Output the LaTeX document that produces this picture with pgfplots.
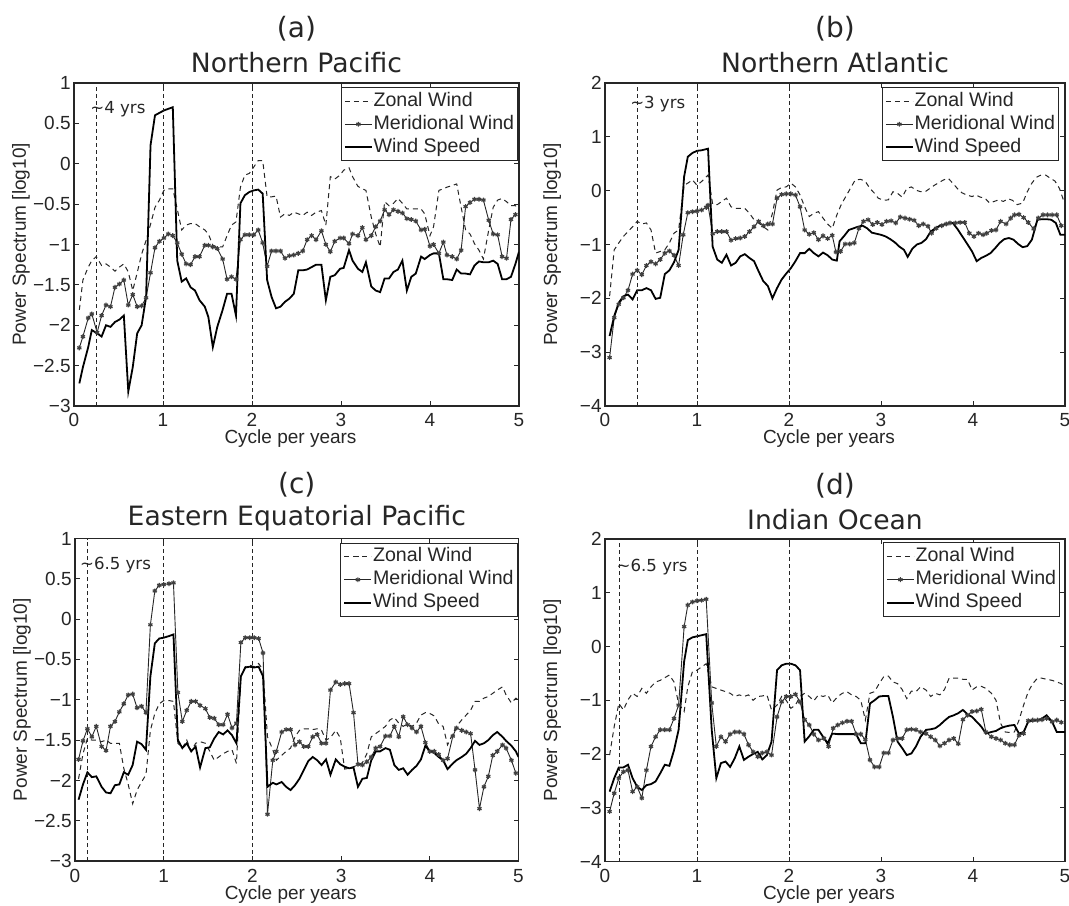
\documentclass[border=0pt]{standalone}
\usepackage{fontspec}
\setmainfont{Liberation Sans}
\newfontfamily\dejavu{DejaVu Sans}
\usepackage{pgfplots}
\pgfplotsset{compat=1.18}
\pgfplotsset{
  myaxis/.style={
    scale only axis, anchor=south west,
    xmin=0, xmax=5, xtick={0,1,2,3,4,5}, xticklabels={0,1,2,3,4,5},
    tick align=inside, tick pos=both, major tick length=2.5pt,
    axis line style={line width=0.6pt, black!85},
    every tick/.style={line width=0.5pt, black!85},
    ticklabel style={font=\fontsize{9.5}{11}\selectfont, text=black!85},
    xticklabel style={anchor=base, yshift=-10.5pt},
    yticklabel style={anchor=east, inner sep=0pt, xshift=-1.5pt},
    legend cell align=left,
    legend image code/.code={\draw[mark repeat=2,mark phase=2,##1] plot coordinates {(0pt,0pt) (6.75pt,0pt) (13.5pt,0pt)};},
    legend style={draw=black!85, line width=0.5pt, fill=white, inner xsep=1.3pt, inner ysep=1.8pt,
      font=\fontsize{9.8}{11}\selectfont, text=black!85, row sep=1.4pt,
      nodes={inner sep=0.4pt, text height=7.2pt, text depth=2.1pt},
      at={(1,1)}, anchor=north east},
  },
  aye/.style={ymin=-3, ymax=1, ytick={-3,-2.5,-2,-1.5,-1,-0.5,0,0.5,1},
    yticklabels={−3,−2.5,−2,−1.5,−1,−0.5,0,0.5,1}},
  bee/.style={ymin=-4, ymax=2, ytick={-4,-3,-2,-1,0,1,2},
    yticklabels={−4,−3,−2,−1,0,1,2}},
  zon/.style={black!85, line width=0.5pt, dash pattern=on 2.5pt off 2pt},
  mer/.style={black!85, line width=0.45pt, mark=asterisk, mark size=1.2pt,
    mark options={solid, line width=0.6pt, draw=black!75}},
  spd/.style={black, line width=0.9pt},
  vline/.style={black!85, line width=0.45pt, dash pattern=on 2pt off 1.5pt, forget plot},
}
\newcommand{\ttl}[3]{%
  \node[anchor=base, font=\dejavu\fontsize{14}{16}\selectfont, text=black!85] at ([yshift=22.5pt]#1.north) {(#1)};
  \node[anchor=base, font=\dejavu\fontsize{13.3}{15}\selectfont, text=black!85] at ([yshift=#3]#1.north) {#2};
  \node[anchor=base, font=\fontsize{9.5}{11}\selectfont, text=black!85] at ([xshift=-3pt,yshift=-19pt]#1.south) {Cycle per years};
  \node[anchor=base, rotate=90, font=\fontsize{9.5}{11}\selectfont, text=black!85] at ([xshift=-24pt]#1.west) {Power Spectrum [log10]};
}
\newcommand{\ann}[1]{\node[anchor=base west, inner sep=0pt, font=\dejavu\fontsize{8.3}{9}\selectfont, text=black!85]}
\begin{document}
\begin{tikzpicture}
\useasboundingbox (0,0) rectangle (534.5pt,452.5pt);
% ---------------- (a)
\begin{axis}[myaxis, aye, name=a, at={(37pt,249.5pt)}, width=222.5pt, height=161.5pt,
  legend style={xshift=-0.5pt, yshift=-2pt}]
\addplot[zon] coordinates {(0.06,-1.81)(0.10,-1.44)(0.16,-1.28)(0.20,-1.20)(0.25,-1.15)(0.31,-1.26)(0.36,-1.24)(0.41,-1.28)(0.46,-1.33)(0.51,-1.28)(0.56,-1.24)(0.61,-1.34)(0.66,-1.57)(0.71,-1.35)(0.76,-1.12)(0.81,-0.95)(0.86,-0.75)(0.91,-0.54)(0.96,-0.45)(1.01,-0.33)(1.06,-0.31)(1.11,-0.31)(1.16,-0.56)(1.21,-0.82)(1.26,-0.76)(1.31,-0.74)(1.36,-0.74)(1.41,-0.78)(1.47,-0.82)(1.51,-0.87)(1.56,-1.01)(1.61,-1.03)(1.67,-1.03)(1.72,-0.89)(1.77,-0.76)(1.82,-0.72)(1.87,-0.29)(1.92,-0.14)(1.97,-0.12)(2.02,-0.04)(2.07,0.04)(2.12,0.04)(2.17,-0.41)(2.22,-0.41)(2.27,-0.40)(2.32,-0.66)(2.37,-0.62)(2.42,-0.64)(2.47,-0.60)(2.52,-0.62)(2.57,-0.64)(2.62,-0.60)(2.67,-0.64)(2.72,-0.60)(2.78,-0.58)(2.83,-0.76)(2.88,-0.16)(2.93,-0.19)(2.99,-0.14)(3.03,-0.08)(3.09,-0.05)(3.13,-0.16)(3.19,-0.28)(3.24,-0.31)(3.28,-0.33)(3.34,-0.66)(3.39,-0.87)(3.44,-1.03)(3.49,-0.47)(3.54,-0.52)(3.59,-0.49)(3.64,-0.43)(3.69,-0.49)(3.74,-0.56)(3.79,-0.56)(3.84,-0.56)(3.90,-0.56)(3.94,-0.62)(4.00,-0.89)(4.04,-0.78)(4.10,-0.33)(4.15,-0.31)(4.19,-0.29)(4.25,-0.27)(4.30,-0.25)(4.35,-0.54)(4.40,-0.82)(4.45,-0.87)(4.50,-0.99)(4.55,-1.07)(4.60,-1.18)(4.66,-0.82)(4.71,-0.54)(4.76,-0.45)(4.81,-0.43)(4.86,-0.47)(4.91,-0.52)(4.96,-0.52)(5.00,-0.56)};
\addlegendentry{Zonal Wind}
\addplot[mer] coordinates {(0.06,-2.28)(0.10,-2.14)(0.16,-1.91)(0.20,-1.86)(0.26,-2.09)(0.31,-1.88)(0.36,-1.75)(0.41,-1.77)(0.46,-1.53)(0.51,-1.49)(0.56,-1.44)(0.61,-1.75)(0.66,-1.62)(0.71,-1.77)(0.76,-1.76)(0.81,-1.66)(0.86,-1.35)(0.91,-1.04)(0.96,-0.96)(1.01,-0.92)(1.06,-0.87)(1.11,-0.89)(1.16,-0.98)(1.21,-1.12)(1.26,-1.24)(1.31,-1.25)(1.36,-1.15)(1.41,-1.15)(1.47,-1.01)(1.51,-1.01)(1.56,-1.03)(1.61,-1.05)(1.67,-1.18)(1.72,-1.43)(1.77,-1.40)(1.82,-1.43)(1.87,-0.94)(1.92,-0.88)(1.97,-0.88)(2.02,-0.88)(2.07,-0.82)(2.12,-0.98)(2.17,-1.27)(2.22,-1.08)(2.27,-1.08)(2.32,-1.08)(2.37,-1.17)(2.42,-1.14)(2.47,-1.13)(2.52,-1.11)(2.57,-1.08)(2.62,-0.94)(2.67,-0.89)(2.72,-0.94)(2.78,-0.83)(2.83,-1.00)(2.88,-1.09)(2.93,-0.96)(2.99,-0.92)(3.03,-0.92)(3.09,-0.99)(3.13,-0.87)(3.19,-0.89)(3.24,-0.79)(3.28,-0.94)(3.34,-0.89)(3.39,-0.78)(3.44,-0.71)(3.49,-0.57)(3.54,-0.63)(3.59,-0.57)(3.64,-0.59)(3.69,-0.61)(3.74,-0.68)(3.79,-0.69)(3.84,-0.71)(3.90,-0.82)(3.94,-0.81)(4.00,-1.02)(4.04,-1.00)(4.10,-1.11)(4.15,-0.97)(4.19,-1.13)(4.25,-1.15)(4.30,-1.18)(4.35,-1.07)(4.40,-0.53)(4.45,-0.48)(4.50,-0.44)(4.55,-0.44)(4.60,-0.45)(4.66,-0.70)(4.71,-0.87)(4.76,-0.88)(4.81,-1.15)(4.86,-1.17)(4.91,-0.69)(4.96,-0.63)};
\addlegendentry{Meridional Wind}
\addplot[spd] coordinates {(0.06,-2.72)(0.10,-2.52)(0.16,-2.27)(0.20,-2.06)(0.26,-2.10)(0.31,-2.14)(0.36,-2.00)(0.41,-2.02)(0.46,-1.96)(0.51,-1.93)(0.56,-1.88)(0.61,-2.82)(0.66,-2.52)(0.71,-2.10)(0.76,-2.00)(0.81,-1.65)(0.86,0.23)(0.91,0.60)(0.96,0.63)(1.01,0.66)(1.06,0.68)(1.11,0.70)(1.16,-1.20)(1.21,-1.46)(1.26,-1.42)(1.31,-1.53)(1.36,-1.57)(1.41,-1.69)(1.47,-1.77)(1.51,-1.90)(1.56,-2.27)(1.61,-2.02)(1.67,-1.81)(1.72,-1.61)(1.77,-1.61)(1.82,-1.88)(1.87,-0.49)(1.92,-0.39)(1.97,-0.35)(2.02,-0.33)(2.07,-0.32)(2.12,-0.37)(2.17,-1.44)(2.22,-1.65)(2.27,-1.79)(2.32,-1.77)(2.37,-1.71)(2.42,-1.67)(2.47,-1.61)(2.52,-1.32)(2.57,-1.32)(2.62,-1.31)(2.67,-1.28)(2.72,-1.25)(2.78,-1.25)(2.83,-1.69)(2.88,-1.40)(2.93,-1.38)(2.99,-1.30)(3.03,-1.29)(3.09,-1.07)(3.13,-1.20)(3.19,-1.30)(3.24,-1.34)(3.28,-1.22)(3.34,-1.52)(3.39,-1.57)(3.44,-1.59)(3.49,-1.42)(3.54,-1.42)(3.59,-1.34)(3.64,-1.31)(3.69,-1.20)(3.74,-1.57)(3.79,-1.40)(3.84,-1.36)(3.90,-1.15)(3.94,-1.18)(4.00,-1.13)(4.04,-1.11)(4.10,-1.11)(4.15,-1.43)(4.19,-1.43)(4.25,-1.44)(4.30,-1.31)(4.35,-1.36)(4.40,-1.36)(4.45,-1.37)(4.50,-1.26)(4.55,-1.21)(4.60,-1.22)(4.66,-1.22)(4.71,-1.20)(4.76,-1.24)(4.81,-1.43)(4.86,-1.43)(4.91,-1.40)(4.96,-1.24)(5.00,-1.09)};
\addlegendentry{Wind Speed}
\addplot[vline] coordinates {(0.25,-3) (0.25,1)};
\addplot[vline] coordinates {(1,-3) (1,1)};
\addplot[vline] coordinates {(2,-3) (2,1)};
\ann{} at (axis cs:0.18,0.62) {\textasciitilde4 yrs};
\end{axis}
% ---------------- (b)
\begin{axis}[myaxis, bee, name=b, at={(302.5pt,249.5pt)}, width=230pt, height=161.5pt,
  legend style={xshift=-3pt, yshift=-2pt}]
\addplot[zon] coordinates {(0.05,-1.96)(0.10,-1.10)(0.15,-0.97)(0.20,-0.85)(0.25,-0.76)(0.30,-0.67)(0.35,-0.57)(0.40,-0.62)(0.45,-0.60)(0.50,-0.73)(0.55,-1.16)(0.60,-1.13)(0.65,-1.10)(0.70,-0.97)(0.75,-0.79)(0.80,-0.73)(0.86,0.10)(0.90,0.14)(0.95,0.20)(1.00,0.10)(1.05,0.17)(1.12,0.29)(1.17,-0.25)(1.22,-0.26)(1.27,-0.20)(1.32,-0.14)(1.37,-0.30)(1.42,-0.33)(1.47,-0.33)(1.52,-0.33)(1.57,-0.42)(1.62,-0.54)(1.67,-0.60)(1.72,-0.67)(1.77,-0.73)(1.82,-0.42)(1.87,0.01)(1.92,0.06)(1.97,0.07)(2.02,0.14)(2.07,0.07)(2.12,-0.08)(2.17,-0.30)(2.22,-0.48)(2.27,-0.42)(2.32,-0.39)(2.37,-0.51)(2.42,-0.62)(2.47,-0.70)(2.52,-0.45)(2.57,-0.25)(2.62,-0.10)(2.67,0.05)(2.72,0.20)(2.78,0.21)(2.83,0.17)(2.88,0.04)(2.93,-0.05)(2.97,-0.14)(3.03,-0.18)(3.08,-0.17)(3.13,-0.02)(3.18,-0.05)(3.23,-0.12)(3.28,0.04)(3.33,0.07)(3.38,0.01)(3.43,-0.02)(3.48,-0.02)(3.53,0.04)(3.58,0.10)(3.63,0.15)(3.68,0.20)(3.73,0.23)(3.78,0.14)(3.83,0.04)(3.88,-0.04)(3.93,-0.08)(3.99,-0.11)(4.03,-0.08)(4.08,-0.12)(4.13,-0.14)(4.18,-0.23)(4.23,-0.20)(4.28,-0.17)(4.33,-0.20)(4.38,-0.15)(4.43,-0.18)(4.48,-0.26)(4.54,-0.23)(4.59,-0.02)(4.64,0.14)(4.69,0.25)(4.74,0.29)(4.79,0.29)(4.84,0.23)(4.89,0.18)(4.94,0.04)(5.00,-0.26)};
\addlegendentry{Zonal Wind}
\addplot[mer] coordinates {(0.05,-3.10)(0.10,-2.36)(0.15,-2.11)(0.20,-1.99)(0.25,-1.85)(0.30,-1.55)(0.35,-1.48)(0.40,-1.56)(0.45,-1.39)(0.50,-1.32)(0.55,-1.36)(0.60,-1.28)(0.65,-1.16)(0.70,-1.12)(0.75,-1.20)(0.80,-1.39)(0.85,-0.82)(0.90,-0.41)(0.95,-0.39)(1.00,-0.38)(1.05,-0.36)(1.10,-0.31)(1.12,-0.27)(1.17,-0.80)(1.22,-0.76)(1.27,-0.76)(1.32,-0.76)(1.37,-0.92)(1.42,-0.89)(1.47,-0.88)(1.52,-0.85)(1.57,-0.76)(1.62,-0.67)(1.67,-0.57)(1.72,-0.65)(1.77,-0.62)(1.82,-0.62)(1.87,-0.14)(1.92,-0.07)(1.97,-0.06)(2.02,-0.06)(2.07,-0.08)(2.12,-0.30)(2.17,-0.73)(2.22,-0.81)(2.27,-0.78)(2.32,-0.91)(2.37,-0.84)(2.42,-0.89)(2.47,-0.83)(2.51,-1.14)(2.56,-1.13)(2.61,-0.99)(2.66,-0.99)(2.71,-0.97)(2.76,-0.70)(2.81,-0.57)(2.86,-0.54)(2.91,-0.63)(2.96,-0.59)(3.01,-0.63)(3.06,-0.57)(3.11,-0.56)(3.16,-0.60)(3.21,-0.49)(3.26,-0.51)(3.31,-0.53)(3.36,-0.55)(3.41,-0.65)(3.46,-0.62)(3.51,-0.66)(3.55,-0.79)(3.60,-0.70)(3.66,-0.65)(3.71,-0.62)(3.75,-0.60)(3.81,-0.60)(3.86,-0.59)(3.91,-0.59)(3.96,-0.79)(4.01,-0.85)(4.06,-0.79)(4.11,-0.82)(4.15,-0.79)(4.20,-0.74)(4.25,-0.73)(4.30,-0.57)(4.36,-0.62)(4.41,-0.51)(4.45,-0.45)(4.50,-0.44)(4.55,-0.50)(4.60,-0.59)(4.66,-0.71)(4.71,-0.51)(4.76,-0.45)(4.81,-0.45)(4.86,-0.45)(4.91,-0.45)(4.96,-0.65)};
\addlegendentry{Meridional Wind}
\addplot[spd] coordinates {(0.05,-2.70)(0.10,-2.33)(0.15,-2.08)(0.20,-1.96)(0.25,-1.93)(0.30,-2.02)(0.35,-1.85)(0.40,-1.85)(0.45,-1.81)(0.50,-1.85)(0.55,-2.01)(0.60,-1.99)(0.65,-1.55)(0.70,-1.48)(0.75,-1.33)(0.80,-1.10)(0.86,0.26)(0.90,0.63)(0.95,0.70)(1.00,0.74)(1.05,0.75)(1.12,0.78)(1.17,-1.04)(1.22,-1.28)(1.27,-1.34)(1.32,-1.19)(1.37,-1.39)(1.42,-1.34)(1.47,-1.22)(1.52,-1.18)(1.57,-1.25)(1.62,-1.31)(1.67,-1.50)(1.72,-1.68)(1.77,-1.77)(1.82,-2.00)(1.87,-1.81)(1.92,-1.65)(1.97,-1.54)(2.02,-1.44)(2.07,-1.31)(2.12,-1.16)(2.17,-1.16)(2.22,-1.08)(2.27,-1.16)(2.32,-1.22)(2.37,-1.15)(2.42,-1.20)(2.47,-1.28)(2.52,-1.30)(2.55,-0.94)(2.60,-0.84)(2.65,-0.73)(2.70,-0.70)(2.75,-0.67)(2.80,-0.65)(2.85,-0.70)(2.90,-0.78)(2.95,-0.80)(3.00,-0.82)(3.05,-0.85)(3.10,-0.90)(3.15,-0.96)(3.20,-1.04)(3.25,-1.10)(3.29,-1.23)(3.34,-1.08)(3.39,-1.00)(3.44,-0.97)(3.49,-0.90)(3.54,-0.76)(3.59,-0.70)(3.64,-0.65)(3.70,-0.62)(3.75,-0.60)(3.78,-0.60)(3.83,-0.71)(3.88,-0.84)(3.93,-0.97)(3.99,-1.13)(4.04,-1.31)(4.09,-1.25)(4.14,-1.21)(4.19,-1.16)(4.24,-1.07)(4.29,-0.97)(4.34,-0.90)(4.39,-0.88)(4.44,-0.91)(4.49,-0.99)(4.54,-1.05)(4.59,-1.03)(4.64,-0.91)(4.70,-0.54)(4.75,-0.53)(4.80,-0.53)(4.85,-0.54)(4.90,-0.60)(4.95,-0.82)(5.00,-0.82)};
\addlegendentry{Wind Speed}
\addplot[vline] coordinates {(0.35,-4) (0.35,2)};
\addplot[vline] coordinates {(1,-4) (1,2)};
\addplot[vline] coordinates {(2,-4) (2,2)};
\ann{} at (axis cs:0.27,1.52) {\textasciitilde3 yrs};
\end{axis}
% ---------------- (c)
\begin{axis}[myaxis, aye, name=c, at={(37.5pt,22pt)}, width=221.75pt, height=161.25pt,
  legend style={xshift=-0.5pt, yshift=-2pt}]
\addplot[zon] coordinates {(0.04,-1.98)(0.09,-1.67)(0.14,-1.48)(0.19,-1.50)(0.24,-1.50)(0.30,-1.52)(0.35,-1.50)(0.40,-1.54)(0.45,-1.54)(0.50,-1.54)(0.55,-1.85)(0.60,-2.05)(0.65,-2.29)(0.70,-2.12)(0.75,-2.02)(0.80,-1.93)(0.85,-1.38)(0.90,-1.17)(0.95,-1.05)(1.00,-1.01)(1.06,-1.01)(1.11,-1.02)(1.16,-1.54)(1.21,-1.60)(1.26,-1.50)(1.31,-1.64)(1.36,-1.54)(1.41,-1.52)(1.47,-1.54)(1.52,-1.64)(1.57,-1.75)(1.62,-1.71)(1.67,-1.67)(1.72,-1.64)(1.77,-1.62)(1.82,-1.79)(1.87,-0.71)(1.92,-0.59)(1.97,-0.57)(2.02,-0.59)(2.07,-0.55)(2.12,-0.63)(2.17,-1.46)(2.23,-1.62)(2.27,-1.75)(2.33,-1.69)(2.38,-1.64)(2.43,-1.60)(2.48,-1.46)(2.53,-1.38)(2.58,-1.36)(2.63,-1.36)(2.68,-1.37)(2.73,-1.36)(2.78,-1.38)(2.83,-1.50)(2.88,-1.47)(2.94,-1.38)(2.99,-1.47)(3.04,-1.86)(3.09,-1.85)(3.14,-1.83)(3.19,-1.81)(3.24,-1.78)(3.29,-1.67)(3.34,-1.46)(3.39,-1.42)(3.44,-1.38)(3.50,-1.33)(3.55,-1.25)(3.60,-1.22)(3.65,-1.29)(3.70,-1.33)(3.75,-1.30)(3.80,-1.33)(3.85,-1.29)(3.90,-1.19)(3.95,-1.16)(4.00,-1.17)(4.05,-1.20)(4.10,-1.30)(4.15,-1.33)(4.20,-1.56)(4.26,-1.42)(4.30,-1.33)(4.36,-1.25)(4.41,-1.19)(4.46,-1.13)(4.51,-1.02)(4.56,-1.02)(4.61,-0.98)(4.66,-0.96)(4.71,-0.92)(4.76,-0.88)(4.82,-0.84)(4.86,-0.94)(4.92,-1.04)(4.97,-0.98)(5.00,-1.00)};
\addlegendentry{Zonal Wind}
\addplot[mer] coordinates {(0.04,-1.74)(0.09,-1.51)(0.14,-1.36)(0.19,-1.46)(0.24,-1.33)(0.30,-1.58)(0.35,-1.63)(0.40,-1.33)(0.45,-1.27)(0.50,-1.15)(0.55,-1.05)(0.60,-0.94)(0.65,-0.93)(0.70,-1.10)(0.75,-1.08)(0.80,-1.16)(0.85,-0.07)(0.90,0.35)(0.95,0.42)(1.00,0.43)(1.06,0.44)(1.11,0.45)(1.16,-0.91)(1.21,-1.27)(1.26,-1.13)(1.31,-1.02)(1.36,-1.02)(1.41,-1.07)(1.47,-1.11)(1.52,-1.22)(1.57,-1.23)(1.62,-1.31)(1.67,-1.31)(1.72,-1.18)(1.77,-1.35)(1.82,-1.29)(1.87,-0.29)(1.92,-0.23)(1.97,-0.23)(2.02,-0.23)(2.07,-0.24)(2.12,-0.42)(2.17,-2.42)(2.23,-1.75)(2.27,-1.64)(2.33,-1.40)(2.38,-1.37)(2.43,-1.37)(2.48,-1.56)(2.53,-1.52)(2.58,-1.58)(2.63,-1.58)(2.68,-1.46)(2.73,-1.43)(2.78,-1.54)(2.83,-1.54)(2.88,-0.88)(2.94,-0.78)(2.99,-0.81)(3.04,-0.80)(3.09,-0.80)(3.14,-1.16)(3.19,-1.80)(3.24,-1.81)(3.29,-1.77)(3.34,-1.71)(3.39,-1.60)(3.44,-1.58)(3.50,-1.45)(3.55,-1.45)(3.60,-1.33)(3.65,-1.46)(3.70,-1.21)(3.75,-1.31)(3.80,-1.35)(3.85,-1.40)(3.90,-1.33)(3.95,-1.53)(4.00,-1.64)(4.05,-1.64)(4.10,-1.68)(4.15,-1.75)(4.20,-1.73)(4.26,-1.45)(4.30,-1.35)(4.36,-1.38)(4.41,-1.40)(4.46,-1.42)(4.51,-1.87)(4.56,-2.35)(4.61,-2.08)(4.66,-1.95)(4.71,-1.69)(4.76,-1.64)(4.82,-1.56)(4.86,-1.60)(4.92,-1.75)(4.97,-1.91)};
\addlegendentry{Meridional Wind}
\addplot[spd] coordinates {(0.04,-2.24)(0.09,-2.05)(0.14,-1.90)(0.19,-1.96)(0.24,-1.95)(0.30,-2.08)(0.35,-2.15)(0.40,-2.16)(0.45,-2.06)(0.50,-2.05)(0.55,-1.90)(0.60,-1.93)(0.65,-1.81)(0.70,-1.52)(0.75,-1.55)(0.80,-1.62)(0.85,-0.71)(0.90,-0.30)(0.95,-0.24)(1.00,-0.23)(1.06,-0.21)(1.11,-0.19)(1.16,-1.50)(1.21,-1.60)(1.26,-1.54)(1.31,-1.64)(1.36,-1.58)(1.41,-1.84)(1.47,-1.60)(1.52,-1.59)(1.57,-1.48)(1.62,-1.40)(1.67,-1.43)(1.72,-1.38)(1.77,-1.44)(1.82,-1.54)(1.87,-0.71)(1.92,-0.60)(1.97,-0.59)(2.02,-0.60)(2.07,-0.59)(2.12,-0.71)(2.17,-2.08)(2.23,-2.03)(2.27,-2.05)(2.33,-2.02)(2.38,-2.08)(2.43,-2.12)(2.48,-2.06)(2.53,-1.98)(2.58,-1.87)(2.63,-1.76)(2.68,-1.71)(2.73,-1.75)(2.78,-1.81)(2.83,-1.74)(2.88,-1.93)(2.94,-1.74)(2.99,-1.80)(3.04,-1.83)(3.09,-1.85)(3.14,-1.84)(3.19,-2.08)(3.24,-1.98)(3.29,-1.97)(3.34,-1.75)(3.39,-1.64)(3.44,-1.64)(3.50,-1.60)(3.55,-1.62)(3.60,-1.81)(3.65,-1.87)(3.70,-1.85)(3.75,-1.93)(3.80,-1.87)(3.85,-1.82)(3.90,-1.74)(3.95,-1.57)(4.00,-1.64)(4.05,-1.66)(4.10,-1.71)(4.15,-1.75)(4.20,-1.86)(4.26,-1.79)(4.30,-1.75)(4.36,-1.71)(4.41,-1.67)(4.46,-1.60)(4.51,-1.51)(4.56,-1.56)(4.61,-1.54)(4.66,-1.50)(4.71,-1.44)(4.76,-1.40)(4.82,-1.46)(4.86,-1.51)(4.92,-1.57)(4.97,-1.64)(5.00,-1.71)};
\addlegendentry{Wind Speed}
\addplot[vline] coordinates {(0.14,-3) (0.14,1)};
\addplot[vline] coordinates {(1,-3) (1,1)};
\addplot[vline] coordinates {(2,-3) (2,1)};
\ann{} at (axis cs:0.053,0.62) {\textasciitilde6.5 yrs};
\end{axis}
% ---------------- (d)
\begin{axis}[myaxis, bee, name=d, at={(302.5pt,21.75pt)}, width=230pt, height=161.25pt,
  legend style={xshift=-2.5pt, yshift=-1.7pt}]
\addplot[zon] coordinates {(0.05,-2.02)(0.10,-1.49)(0.15,-1.06)(0.20,-1.18)(0.25,-0.99)(0.30,-0.87)(0.35,-0.93)(0.40,-0.78)(0.45,-0.87)(0.50,-0.75)(0.55,-0.66)(0.60,-0.63)(0.65,-0.58)(0.70,-0.53)(0.75,-0.66)(0.80,-1.06)(0.86,-1.21)(0.90,-0.75)(0.95,-0.47)(1.00,-0.44)(1.05,-0.38)(1.10,-0.32)(1.16,-0.75)(1.21,-0.78)(1.26,-0.81)(1.31,-0.84)(1.36,-0.87)(1.41,-0.93)(1.46,-0.90)(1.51,-0.93)(1.56,-0.90)(1.61,-1.00)(1.66,-0.93)(1.71,-0.92)(1.76,-0.90)(1.81,-1.18)(1.87,-1.09)(1.92,-0.93)(1.97,-1.00)(2.02,-1.15)(2.07,-1.09)(2.12,-0.93)(2.17,-0.87)(2.22,-0.93)(2.27,-1.01)(2.32,-0.90)(2.37,-0.93)(2.42,-0.90)(2.47,-1.05)(2.53,-0.93)(2.58,-0.87)(2.63,-0.84)(2.68,-0.90)(2.73,-0.93)(2.78,-1.00)(2.83,-1.37)(2.88,-0.87)(2.93,-0.84)(2.98,-0.69)(3.03,-0.56)(3.08,-0.55)(3.13,-0.66)(3.18,-0.69)(3.23,-0.80)(3.28,-0.97)(3.33,-0.83)(3.38,-0.84)(3.43,-0.75)(3.49,-0.81)(3.54,-0.93)(3.59,-0.87)(3.64,-0.90)(3.69,-0.80)(3.74,-0.59)(3.79,-0.59)(3.84,-0.59)(3.89,-0.61)(3.94,-0.61)(3.99,-0.81)(4.04,-0.75)(4.09,-0.74)(4.14,-0.78)(4.20,-0.87)(4.25,-1.00)(4.30,-1.43)(4.35,-1.59)(4.40,-1.60)(4.45,-1.59)(4.50,-1.37)(4.55,-1.09)(4.60,-0.84)(4.65,-0.69)(4.70,-0.59)(4.75,-0.59)(4.80,-0.61)(4.86,-0.63)(4.91,-0.66)(4.96,-0.69)(5.00,-0.76)};
\addlegendentry{Zonal Wind}
\addplot[mer] coordinates {(0.05,-3.07)(0.10,-2.73)(0.15,-2.45)(0.20,-2.33)(0.25,-2.30)(0.30,-2.70)(0.35,-2.61)(0.40,-2.82)(0.45,-2.30)(0.50,-1.86)(0.55,-1.68)(0.60,-1.55)(0.65,-1.55)(0.70,-1.55)(0.75,-1.34)(0.80,-1.09)(0.86,0.37)(0.90,0.77)(0.95,0.83)(1.00,0.85)(1.05,0.86)(1.10,0.88)(1.16,-1.05)(1.21,-1.86)(1.26,-1.68)(1.31,-1.77)(1.36,-1.63)(1.41,-1.59)(1.46,-1.59)(1.51,-1.63)(1.56,-1.83)(1.61,-1.96)(1.66,-2.05)(1.71,-1.98)(1.76,-1.96)(1.81,-2.02)(1.87,-1.31)(1.92,-1.03)(1.97,-0.93)(2.02,-0.93)(2.07,-0.89)(2.12,-1.03)(2.17,-1.36)(2.22,-1.46)(2.27,-1.63)(2.32,-1.74)(2.38,-1.71)(2.43,-1.86)(2.48,-1.52)(2.53,-1.46)(2.58,-1.42)(2.63,-1.39)(2.68,-1.39)(2.73,-1.63)(2.78,-1.63)(2.83,-1.73)(2.88,-2.11)(2.93,-2.24)(2.98,-2.24)(3.03,-1.98)(3.08,-1.98)(3.13,-1.74)(3.18,-1.71)(3.23,-1.71)(3.28,-1.55)(3.33,-1.54)(3.38,-1.55)(3.43,-1.59)(3.49,-1.62)(3.54,-1.68)(3.59,-1.74)(3.64,-1.85)(3.69,-1.80)(3.74,-1.74)(3.79,-1.71)(3.84,-1.81)(3.89,-1.36)(3.94,-1.28)(3.99,-1.21)(4.04,-1.20)(4.09,-1.17)(4.14,-1.59)(4.20,-1.68)(4.25,-1.71)(4.30,-1.74)(4.35,-1.80)(4.40,-1.83)(4.45,-1.83)(4.50,-1.65)(4.55,-1.62)(4.60,-1.38)(4.65,-1.37)(4.70,-1.37)(4.75,-1.36)(4.80,-1.34)(4.86,-1.40)(4.91,-1.37)(4.96,-1.41)};
\addlegendentry{Meridional Wind}
\addplot[spd] coordinates {(0.05,-2.70)(0.10,-2.45)(0.15,-2.25)(0.20,-2.25)(0.25,-2.20)(0.30,-2.45)(0.35,-2.61)(0.40,-2.67)(0.45,-2.58)(0.50,-2.56)(0.55,-2.51)(0.60,-2.36)(0.65,-2.20)(0.70,-2.22)(0.75,-1.93)(0.80,-1.55)(0.86,-0.28)(0.90,0.12)(0.95,0.17)(1.00,0.19)(1.05,0.21)(1.10,0.23)(1.16,-1.55)(1.21,-2.45)(1.26,-2.17)(1.31,-2.14)(1.36,-2.24)(1.41,-2.08)(1.46,-1.86)(1.51,-2.11)(1.56,-2.05)(1.61,-2.00)(1.66,-1.96)(1.71,-2.10)(1.76,-2.02)(1.81,-1.77)(1.87,-0.44)(1.92,-0.35)(1.97,-0.32)(2.02,-0.32)(2.07,-0.35)(2.12,-0.44)(2.17,-1.77)(2.22,-1.67)(2.27,-1.55)(2.32,-1.55)(2.37,-1.68)(2.42,-1.80)(2.47,-1.62)(2.53,-1.63)(2.63,-1.63)(2.73,-1.63)(2.78,-1.80)(2.83,-1.80)(2.88,-1.06)(2.93,-1.00)(2.98,-0.93)(3.03,-0.92)(3.08,-0.92)(3.13,-1.31)(3.18,-1.77)(3.23,-1.89)(3.28,-2.02)(3.33,-1.99)(3.38,-1.86)(3.43,-1.68)(3.49,-1.55)(3.54,-1.54)(3.59,-1.52)(3.64,-1.46)(3.69,-1.38)(3.74,-1.31)(3.79,-1.28)(3.84,-1.24)(3.89,-1.18)(3.94,-1.26)(3.99,-1.31)(4.04,-1.40)(4.09,-1.49)(4.14,-1.62)(4.20,-1.59)(4.25,-1.57)(4.30,-1.52)(4.35,-1.49)(4.40,-1.47)(4.45,-1.46)(4.50,-1.62)(4.55,-1.59)(4.60,-1.40)(4.65,-1.38)(4.70,-1.37)(4.75,-1.34)(4.80,-1.28)(4.86,-1.40)(4.91,-1.59)(4.96,-1.59)(5.00,-1.59)};
\addlegendentry{Wind Speed}
\addplot[vline] coordinates {(0.155,-4) (0.155,2)};
\addplot[vline] coordinates {(1,-4) (1,2)};
\addplot[vline] coordinates {(2,-4) (2,2)};
\ann{} at (axis cs:0.123,1.39) {\textasciitilde6.5 yrs};
\end{axis}
\ttl{a}{Northern Pacific}{5pt}
\ttl{b}{Northern Atlantic}{5pt}
\ttl{c}{Eastern Equatorial Pacific}{6.6pt}
\ttl{d}{Indian Ocean}{4.8pt}
\end{tikzpicture}
\end{document}
